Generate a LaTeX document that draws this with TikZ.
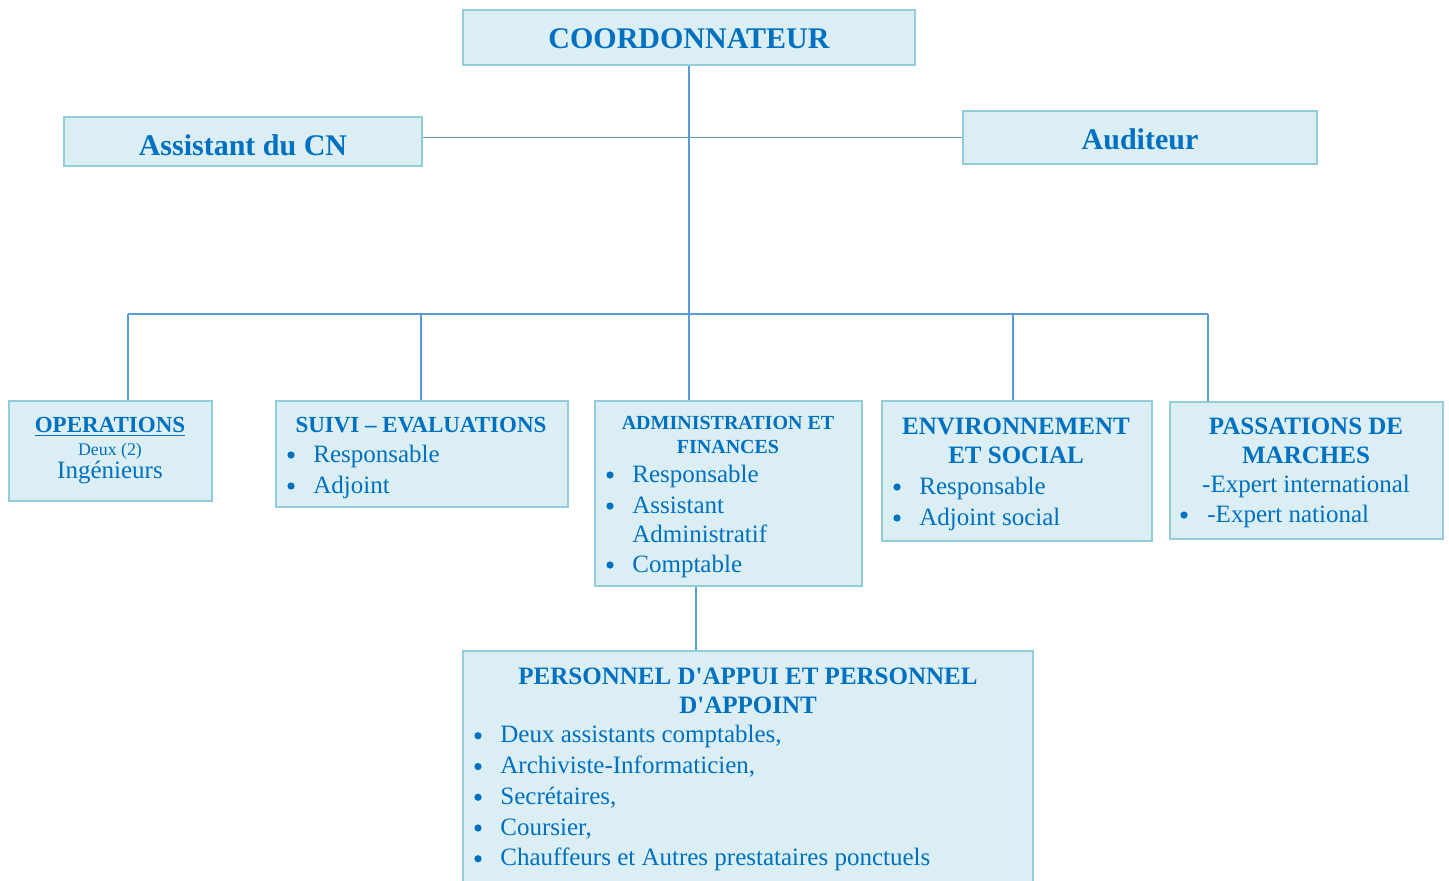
\documentclass[tikz,border=0pt]{standalone}
\usepackage{fontspec}
\setmainfont{Liberation Serif}
\usetikzlibrary{fit, positioning}
\definecolor{orgtext}{HTML}{0070C0}
\definecolor{orgfill}{HTML}{DAEEF3}
\definecolor{orgedge}{HTML}{92CDDC}
\definecolor{orgline}{HTML}{5B9BD5}
\tikzset{
    box/.style={draw=orgedge, fill=orgfill, line width=1pt, inner sep=0pt},
    link/.style={draw=orgline, line width=0.7pt},
    title/.style={inner sep=0pt, text=orgtext, font=\bfseries\fontsize{12.5}{15}\selectfont, anchor=base},
    item/.style={inner sep=0pt, text=orgtext, font=\fontsize{12.5}{15}\selectfont, anchor=base west},
    line/.style={inner sep=0pt, text=orgtext, font=\fontsize{12.5}{15}\selectfont, anchor=base},
    dot/.style={circle, fill=orgtext, inner sep=0pt, minimum size=3.6pt, yshift=3.5pt},
}

\begin{document}
\begin{tikzpicture}[x=0.5pt, y=-0.5pt]
    \useasboundingbox (0,0) rectangle (1449,880);
    % boxes
    \node[box, fit={(463,10) (915,65)}] (coord) {};
    \node[box, fit={(64,117) (422,166)}] (asst) {};
    \node[box, fit={(963,111) (1317,164)}] (aud) {};
    \node[box, fit={(9,401) (212,501)}] (ops) {};
    \node[box, fit={(276,401) (568,507)}] (suivi) {};
    \node[box, fit={(595,401) (862,586)}] (admin) {};
    \node[box, fit={(882,401) (1152,541)}] (env) {};
    \node[box, fit={(1170,402) (1443,539)}] (pass) {};
    \node[box, fit={(463,651) (1033,900)}] (pers) {};

    % links
    \coordinate (busL) at (128,314);
    \coordinate (busB) at (421,314);
    \coordinate (busD) at (1013,314);
    \coordinate (busR) at (1208,314);
    \coordinate (down) at (696,0);
    \draw[link] (coord.south) -- (coord.south |- admin.north);
    \draw[link] (asst.east |- aud.west) -- (aud.west);
    \draw[link] (busL) -- (busR);
    \draw[link] (busL) -- (busL |- ops.north);
    \draw[link] (busB) -- (busB |- suivi.north);
    \draw[link] (busD) -- (busD |- env.north);
    \draw[link] (busR) -- (busR |- pass.north);
    \draw[link] (admin.south -| down) -- (pers.north -| down);

    % texts
    \node[title, font=\bfseries\fontsize{15}{18}\selectfont] (coordT) at (689,48) {COORDONNATEUR};
    \node[title, font=\bfseries\fontsize{15}{18}\selectfont] (asstT) at (243,155) {Assistant du CN};
    \node[title, font=\bfseries\fontsize{15}{18}\selectfont] (audT) at (1140,149) {Auditeur};

    \node[title, font=\bfseries\fontsize{11.5}{14}\selectfont] (opsT) at (110,432) {\underline{OPERATIONS}};
    \node[line, font=\fontsize{8.9}{10}\selectfont] (opsA) at (110,455) {Deux (2)};
    \node[line] (opsB) at (110,478) {Ingénieurs};

    \node[title, font=\bfseries\fontsize{11.5}{14}\selectfont] (suiviT) at (421,432) {SUIVI – EVALUATIONS};
    \foreach \t [count=\i] in {Responsable, Adjoint}
    {
        \node[dot] (suiviD\i) at (291,431+31*\i) {};
        \node[item] (suiviI\i) at (313,431+31*\i) {\t};
    }

    \node[title, font=\bfseries\fontsize{10}{12}\selectfont] (adminT1) at (728,429) {ADMINISTRATION ET};
    \node[title, font=\bfseries\fontsize{10}{12}\selectfont] (adminT2) at (728,453) {FINANCES};
    \node[dot] (adminD1) at (610,482) {};
    \node[item] (adminI1) at (632,482) {Responsable};
    \node[dot] (adminD2) at (610,513) {};
    \node[item] (adminI2) at (632,513) {Assistant};
    \node[item] (adminI3) at (632,542) {Administratif};
    \node[dot] (adminD4) at (610,572) {};
    \node[item] (adminI4) at (632,572) {Comptable};

    \node[title] (envT1) at (1016,434) {ENVIRONNEMENT};
    \node[title] (envT2) at (1016,463) {ET SOCIAL};
    \foreach \t [count=\i] in {Responsable, Adjoint social}
    {
        \node[dot] (envD\i) at (897,463+31*\i) {};
        \node[item] (envI\i) at (919,463+31*\i) {\t};
    }

    \node[title] (passT1) at (1306,434) {PASSATIONS DE};
    \node[title] (passT2) at (1306,463) {MARCHES};
    \node[line] (passA) at (1306,492) {-Expert international};
    \node[dot] (passD) at (1184,522) {};
    \node[item] (passB) at (1207,522) {-Expert national};

    \node[title] (persT1) at (748,684) {PERSONNEL D\textquotesingle APPUI ET PERSONNEL};
    \node[title] (persT2) at (748,713) {D\textquotesingle APPOINT};
    \foreach \t [count=\i] in {{Deux assistants comptables,}, {Archiviste-Informaticien,}, {Secrétaires,}, {Coursier,}, {Chauffeurs et Autres prestataires ponctuels}}
    {
        \node[dot] (persD\i) at (478,712+30.75*\i) {};
        \node[item] (persI\i) at (500,712+30.75*\i) {\t};
    }
\end{tikzpicture}
\end{document}
